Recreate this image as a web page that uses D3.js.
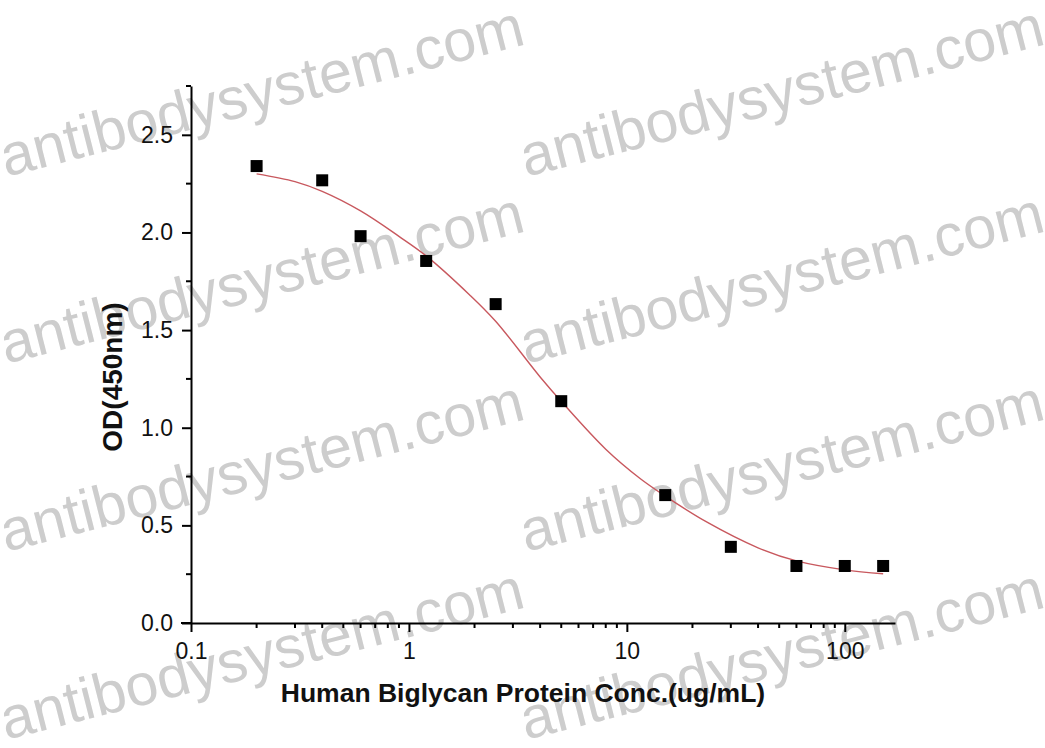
<!DOCTYPE html>
<html>
<head>
<meta charset="utf-8">
<script src="https://cdn.jsdelivr.net/npm/d3@7"></script>
<style>
  body { margin: 0; background: #fff; }
  text { font-family: "Liberation Sans", Arial, sans-serif; }
</style>
</head>
<body>
<div id="chart-area"></div>
<script>
// measured points
const conc = [0.2, 0.4, 0.6, 1.2, 2.5, 5, 15, 30, 60, 100, 150];
const od = [2.34, 2.267, 1.981, 1.854, 1.633, 1.136, 0.655, 0.39, 0.292, 0.292, 0.292];

// fitted curve
const fitConc = [0.2, 0.3, 0.4, 0.6, 0.9, 1.2, 1.9, 2.5, 4, 5, 8, 11.5, 15, 23, 40, 60, 100, 150];
const fitOd = [2.30, 2.26, 2.21, 2.11, 1.98, 1.88, 1.68, 1.545, 1.26, 1.135, 0.89, 0.74, 0.65, 0.52, 0.385, 0.318, 0.272, 0.252];

const xTicks = [0.1, 1, 10, 100];
const xTickLabels = ["0.1", "1", "10", "100"];
const yTicks = [0.0, 0.5, 1.0, 1.5, 2.0, 2.5];

const watermark = "antibodysystem.com";

const W = 1045, H = 748;
const margin = { top: 86, right: 150, bottom: 125, left: 191 };
const width = 895 - margin.left;
const height = 623 - margin.top;

const svg = d3.select("#chart-area")
  .append("svg")
  .attr("width", W)
  .attr("height", H);

// watermark rows
const wm = svg.append("g");
[177, 364, 552, 740].forEach(y => {
  [6, 526].forEach(x => {
    wm.append("text")
      .attr("transform", `translate(${x}, ${y}) rotate(-14.3)`)
      .attr("font-size", 59)
      .attr("fill", "#cdcdcd")
      .text(watermark);
  });
});

const g = svg.append("g")
  .attr("transform", `translate(${margin.left}, ${margin.top})`);

const x = d3.scaleLog()
  .domain([0.1, 170])
  .range([0, width]);

const y = d3.scaleLinear()
  .domain([0, 2.75])
  .range([height, 0]);

// minor ticks
const xMinor = [];
[0.1, 1, 10, 100].forEach(d => {
  for (let k = 2; k <= 9; k++) {
    const v = d * k;
    if (v <= 170) xMinor.push(v);
  }
});
const yMinor = [0.25, 0.75, 1.25, 1.75, 2.25, 2.75];

const xAxisCall = d3.axisBottom(x)
  .tickValues(xTicks)
  .tickFormat((d, i) => xTickLabels[i])
  .tickSizeInner(9)
  .tickSizeOuter(0)
  .tickPadding(11);

const yAxisCall = d3.axisLeft(y)
  .tickValues(yTicks)
  .tickFormat(d3.format(".1f"))
  .tickSizeInner(9)
  .tickSizeOuter(0)
  .tickPadding(9);

const xAxisGroup = g.append("g")
  .attr("transform", `translate(0, ${height})`)
  .call(xAxisCall);

xAxisGroup.selectAll(".minor")
  .data(xMinor)
  .enter().append("line")
  .attr("class", "minor")
  .attr("x1", d => x(d)).attr("x2", d => x(d))
  .attr("y1", 0).attr("y2", 5)
  .attr("stroke", "#000")
  .attr("stroke-width", 2);

const yAxisGroup = g.append("g")
  .call(yAxisCall);

yAxisGroup.selectAll(".minor")
  .data(yMinor)
  .enter().append("line")
  .attr("class", "minor")
  .attr("y1", d => y(d)).attr("y2", d => y(d))
  .attr("x1", 0).attr("x2", -5)
  .attr("stroke", "#000")
  .attr("stroke-width", 2);

[xAxisGroup, yAxisGroup].forEach(a => {
  a.select(".domain").attr("stroke", "#000").attr("stroke-width", 2);
  a.selectAll(".tick line").attr("stroke", "#000").attr("stroke-width", 2);
  a.selectAll(".tick text")
    .attr("fill", "#111")
    .attr("font-size", 23)
    .attr("font-family", "Liberation Sans, Arial, sans-serif");
});

// extend x axis line slightly left, like the 0.0 tick
g.append("line")
  .attr("x1", -10).attr("x2", 0)
  .attr("y1", height).attr("y2", height)
  .attr("stroke", "#000").attr("stroke-width", 2);

// fitted curve
const fit = fitConc.map((c, i) => ({ c: c, v: fitOd[i] }));
const line = d3.line()
  .x(d => x(d.c))
  .y(d => y(d.v))
  .curve(d3.curveCatmullRom.alpha(0.5));

g.append("path")
  .datum(fit)
  .attr("fill", "none")
  .attr("stroke", "#c8585e")
  .attr("stroke-width", 1.4)
  .attr("d", line);

// points
const pts = conc.map((c, i) => ({ c: c, v: od[i] }));
g.selectAll("rect.pt")
  .data(pts)
  .enter().append("rect")
  .attr("class", "pt")
  .attr("x", d => x(d.c) - 6)
  .attr("y", d => y(d.v) - 6)
  .attr("width", 12)
  .attr("height", 12)
  .attr("fill", "#000");

// axis titles
svg.append("text")
  .attr("x", 523)
  .attr("y", 702)
  .attr("text-anchor", "middle")
  .attr("font-size", 26.5)
  .attr("font-weight", "bold")
  .attr("fill", "#111")
  .text("Human Biglycan Protein Conc.(ug/mL)");

svg.append("text")
  .attr("transform", "translate(122, 377) rotate(-90)")
  .attr("text-anchor", "middle")
  .attr("font-size", 28)
  .attr("font-weight", "bold")
  .attr("fill", "#111")
  .text("OD(450nm)");
</script>
</body>
</html>
